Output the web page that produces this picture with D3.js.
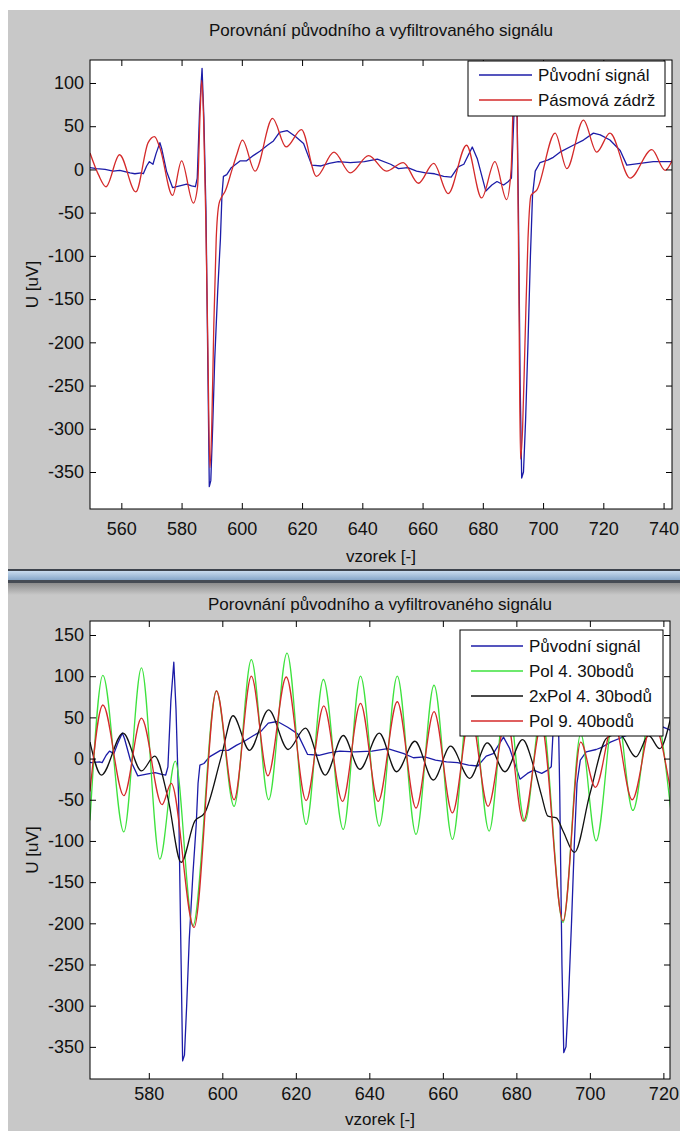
<!DOCTYPE html>
<html>
<head>
<meta charset="utf-8">
<script src="https://cdn.jsdelivr.net/npm/d3@7"></script>
<style>
  body { margin: 0; background: #fff; }
  svg { display: block; font-family: "Liberation Sans", Arial, Helvetica, sans-serif; }
</style>
</head>
<body>
<svg id="chart" width="680" height="1131"></svg>
<script>
// original ECG (same in both panels)  [sample, uV]
const puvodniSignal = [
  [549.6, 2], [551.8, 1], [554.6, 0], [557.3, -2], [559.5, -1], [562.9, -4], [564.5, -5],
  [566.6, -4], [567.3, -5], [568.4, 4], [569.3, 9], [570.5, 6], [571.5, 18], [572.8, 31],
  [573.4, 24], [575, -2], [577, -21], [579.4, -19], [581.7, -17], [583.3, -19], [584.6, -20],
  [585.2, -10], [586.0, 70], [586.8, 117], [587.4, 60], [588.1, -48], [588.8, -250],
  [589.2, -367], [589.7, -360], [590.3, -300], [591.0, -220], [592.0, -140], [592.9, -80],
  [593.4, -30], [593.9, -8], [595, -6], [596.5, 2], [599.5, 10], [601.6, 10], [603.8, 16],
  [606, 21], [608.5, 28], [610.5, 33], [612.5, 43], [615, 45], [617.8, 38], [620.5, 30],
  [623.2, 5], [626.3, 4], [629, 7], [632, 9], [636, 8], [640.7, 9], [645, 12], [649.4, 6],
  [652, 1], [655.1, 2], [658, -2], [661, -4], [664, -5], [667, -8], [669.5, -9], [671.8, 3],
  [673.7, 6], [676.5, 26], [678.2, 12], [681, -25], [683, -18], [684.7, -14], [686.9, -18],
  [688.5, -14], [689.5, -10], [690.3, 60], [690.9, 110], [691.4, 60], [691.8, -40],
  [692.4, -250], [692.9, -357], [693.5, -350], [694.2, -290], [695, -200], [695.8, -100],
  [696.5, -30], [697.4, -2], [699, 8], [701.7, 11], [703.4, 14], [705.6, 20], [710, 28],
  [713.4, 34], [716.7, 42], [719, 40], [722.2, 34], [725.6, 22], [727.8, 5], [732.2, 7],
  [736.6, 9], [742.8, 9]
];

// band stop filter (top panel)
const pasmovaZadrz = [
  [549.6, 19], [552.4, -6], [554.9, -20], [559.4, 17], [564.8, -26], [568.9, 31], [571, 38],
  [572.8, 25], [577, -30], [580, 10], [583.9, -39], [585.3, -20], [586.2, 70], [586.7, 103],
  [587.3, 60], [588.0, -50], [588.7, -200], [589.4, -345], [590.0, -300], [590.7, -180],
  [591.5, -80], [592.4, -40], [593.3, -32], [594.5, -25], [596.6, -2], [598.3, 17],
  [600.2, 34], [604.4, -2], [610.2, 59], [614.7, 26], [619.8, 46], [624.8, -8], [630.6, 20],
  [636, -4], [642.1, 16], [648, -2], [653.6, 8], [658.6, -16], [663.7, 7], [668.5, -28],
  [674.6, 28], [679.6, -33], [684, 9], [687.9, -35], [689.4, 0], [690.2, 90], [690.8, 110],
  [691.4, 60], [692.0, -150], [692.5, -335], [693.2, -300], [694.0, -200], [695, -80],
  [696, -30], [697.9, -24], [704, 42], [707.9, 1], [713.4, 57], [717.8, 20], [722.2, 42],
  [728.9, -10], [736.1, 23], [740.5, -1], [743.3, 14]
];

// bottom panel filters
const pol4 = [
  [564, -75], [567.5, 101], [573.2, -89], [578, 110], [583, -122], [587.2, -3], [592, -203],
  [598.4, 82], [603.2, -58], [607.9, 120], [612.6, -50], [617.6, 128], [622.8, -80],
  [627.5, 96], [632.9, -86], [637.6, 100], [642.7, -82], [647.6, 100], [652.7, -92],
  [657.6, 89], [662.6, -98], [667.5, 88], [672.6, -88], [677.3, 85], [682.3, -76],
  [686.8, 55], [692.7, -199], [697.5, 30], [701.7, -100], [707, 70], [711.7, -63],
  [717, 70], [722, -62]
];

const pol4x2 = [
  [564, 20], [567.1, -20], [573, 31], [578, -15], [581.6, 3], [585.2, -48], [588.8, -126],
  [592.5, -76], [595.2, -66], [599.7, 2], [602.9, 52], [607.4, 10], [612.6, 59], [617.9, 11],
  [622.6, 37], [628, -20], [632.9, 28], [637.4, -13], [642.7, 31], [647.4, -16], [652.4, 21],
  [657.4, -26], [662.1, 15], [667.3, -24], [672.1, 19], [676.9, -16], [681.7, 23],
  [684.6, -8], [686.8, -44], [688.6, -70], [690.9, -72], [692.7, -88], [695.8, -114],
  [700, -43], [704.6, 25], [708, 30], [712.5, 2], [716, 28], [719, 12], [722, 50]
];

const pol9 = [
  [564, -40], [567.5, 65], [573.2, -45], [578, 49], [583.6, -56], [586.1, -30], [592.3, -205],
  [598.4, 82], [603.2, -50], [607.9, 100], [612.4, -21], [617.4, 99], [622.8, -51],
  [627.6, 64], [632.7, -52], [637.6, 67], [642.4, -52], [647.6, 69], [652.7, -60],
  [657.6, 57], [662.6, -66], [667.5, 55], [672.3, -58], [677.3, 50], [681.9, -76],
  [686.8, 40], [692.7, -197], [697.5, 20], [701.5, -35], [706.5, 45], [711.5, -50],
  [717, 45], [722, -40]
];

const topXTicks = [560, 580, 600, 620, 640, 660, 680, 700, 720, 740];
const topYTicks = [100, 50, 0, -50, -100, -150, -200, -250, -300, -350];
const bottomXTicks = [580, 600, 620, 640, 660, 680, 700, 720];
const bottomYTicks = [150, 100, 50, 0, -50, -100, -150, -200, -250, -300, -350];

const titleText = "Porovnání původního a vyfiltrovaného signálu";
const xLabelText = "vzorek [-]";
const yLabelText = "U [uV]";

const BLUE = "#1c1ca8";
const RED = "#d42a2a";
const GREEN = "#3ee23e";
const BLACK = "#111";

const svg = d3.select("#chart");

// window background pieces
svg.append("rect").attr("x", 8).attr("y", 10).attr("width", 672).attr("height", 560).attr("fill", "#c8c8c8");
svg.append("rect").attr("x", 8).attr("y", 582).attr("width", 672).attr("height", 549).attr("fill", "#c8c8c8");

// window separator
const grad = svg.append("defs").append("linearGradient")
  .attr("id", "sepBlue").attr("x1", 0).attr("y1", 0).attr("x2", 0).attr("y2", 1);
grad.append("stop").attr("offset", "0%").attr("stop-color", "#c9dbee");
grad.append("stop").attr("offset", "100%").attr("stop-color", "#86a6c8");
const shade = svg.select("defs").append("linearGradient")
  .attr("id", "sepShade").attr("x1", 0).attr("y1", 0).attr("x2", 0).attr("y2", 1);
shade.append("stop").attr("offset", "0%").attr("stop-color", "#8c8c8c");
shade.append("stop").attr("offset", "100%").attr("stop-color", "#c8c8c8");

svg.append("rect").attr("x", 8).attr("y", 569).attr("width", 672).attr("height", 2).attr("fill", "#3d434c");
svg.append("rect").attr("x", 8).attr("y", 571).attr("width", 672).attr("height", 9).attr("fill", "url(#sepBlue)");
svg.append("rect").attr("x", 8).attr("y", 580).attr("width", 672).attr("height", 3).attr("fill", "#454b54");
svg.append("rect").attr("x", 8).attr("y", 583).attr("width", 672).attr("height", 12).attr("fill", "url(#sepShade)");

// MATLAB prints a plain hyphen for negative numbers
const plainNumber = (d) => String(d);

const drawPanel = (opts) => {
  const { id, left, right, top, bottom, xDomain, yDomain, xTicks, yTicks,
    series, legend, titleY, xTickPad, xLabelY } = opts;

  const x = d3.scaleLinear().domain(xDomain).range([left, right]);
  const y = d3.scaleLinear().domain(yDomain).range([bottom, top]);

  const g = svg.append("g").attr("class", id);

  g.append("rect")
    .attr("x", left).attr("y", top)
    .attr("width", right - left).attr("height", bottom - top)
    .attr("fill", "#fff");

  g.append("clipPath").attr("id", "clip-" + id)
    .append("rect")
    .attr("x", left).attr("y", top)
    .attr("width", right - left).attr("height", bottom - top);

  const plot = g.append("g").attr("clip-path", `url(#clip-${id})`);

  series.forEach((s) => {
    const line = d3.line()
      .x((d) => x(d[0]))
      .y((d) => y(d[1]))
      .curve(s.smooth ? d3.curveMonotoneX : d3.curveLinear);
    plot.append("path")
      .datum(s.data)
      .attr("fill", "none")
      .attr("stroke", s.color)
      .attr("stroke-width", 1.3)
      .attr("stroke-linejoin", "round")
      .attr("d", line);
  });

  // axes, ticks pointing inside as in MATLAB
  const styleAxis = (sel) => {
    sel.select(".domain").remove();
    sel.selectAll(".tick line").attr("stroke", "#000");
    sel.selectAll("text")
      .attr("fill", "#111")
      .style("font-family", "'Liberation Sans', Arial, sans-serif")
      .style("font-size", "18px");
  };

  g.append("g")
    .attr("transform", `translate(0,${bottom})`)
    .call(d3.axisBottom(x).tickValues(xTicks).tickFormat(plainNumber)
      .tickSizeInner(-6).tickSizeOuter(0).tickPadding(xTickPad))
    .call(styleAxis);
  g.append("g")
    .attr("transform", `translate(0,${top})`)
    .call(d3.axisTop(x).tickValues(xTicks).tickSizeInner(-6).tickSizeOuter(0).tickFormat(""))
    .call(styleAxis);
  g.append("g")
    .attr("transform", `translate(${left},0)`)
    .call(d3.axisLeft(y).tickValues(yTicks).tickFormat(plainNumber)
      .tickSizeInner(-6).tickSizeOuter(0).tickPadding(6))
    .call(styleAxis);
  g.append("g")
    .attr("transform", `translate(${right},0)`)
    .call(d3.axisRight(y).tickValues(yTicks).tickSizeInner(-6).tickSizeOuter(0).tickFormat(""))
    .call(styleAxis);

  g.append("rect")
    .attr("x", left).attr("y", top)
    .attr("width", right - left).attr("height", bottom - top)
    .attr("fill", "none").attr("stroke", "#000").attr("stroke-width", 1);

  // labels
  g.append("text")
    .attr("x", (left + right) / 2).attr("y", titleY)
    .attr("text-anchor", "middle")
    .attr("font-size", 17).attr("fill", "#111")
    .text(titleText);
  g.append("text")
    .attr("x", (left + right) / 2).attr("y", xLabelY)
    .attr("text-anchor", "middle")
    .attr("font-size", 17).attr("fill", "#111")
    .text(xLabelText);
  g.append("text")
    .attr("transform", `translate(38,${(top + bottom) / 2}) rotate(-90)`)
    .attr("text-anchor", "middle")
    .attr("font-size", 17).attr("fill", "#111")
    .text(yLabelText);

  // legend
  const lg = g.append("g");
  lg.append("rect")
    .attr("x", legend.x).attr("y", legend.y)
    .attr("width", legend.w).attr("height", legend.h)
    .attr("fill", "#fff").attr("stroke", "#000").attr("stroke-width", 1);
  series.forEach((s, i) => {
    const ry = legend.y + legend.first + i * legend.step;
    lg.append("line")
      .attr("x1", legend.x + legend.lineFrom).attr("x2", legend.x + legend.lineTo)
      .attr("y1", ry).attr("y2", ry)
      .attr("stroke", s.color).attr("stroke-width", 1.3);
    lg.append("text")
      .attr("x", legend.x + legend.textX).attr("y", ry)
      .attr("dy", "0.35em")
      .attr("font-size", 17).attr("fill", "#111")
      .text(s.name);
  });
};

drawPanel({
  id: "top",
  left: 90, right: 672, top: 60, bottom: 509,
  xDomain: [549.6, 742.8], yDomain: [-392.8, 126.6],
  xTicks: topXTicks, yTicks: topYTicks,
  titleY: 36, xTickPad: 13, xLabelY: 562,
  series: [
    { name: "Původní signál", data: puvodniSignal, color: BLUE, smooth: false },
    { name: "Pásmová zádrž", data: pasmovaZadrz, color: RED, smooth: true }
  ],
  legend: { x: 468, y: 61, w: 197, h: 55, first: 14, step: 25, lineFrom: 11, lineTo: 64, textX: 70 }
});

drawPanel({
  id: "bottom",
  left: 90, right: 670, top: 621, bottom: 1079,
  xDomain: [564, 721.8], yDomain: [-389, 167],
  xTicks: bottomXTicks, yTicks: bottomYTicks,
  titleY: 610, xTickPad: 8, xLabelY: 1125,
  series: [
    { name: "Původní signál", data: puvodniSignal, color: BLUE, smooth: false },
    { name: "Pol 4. 30bodů", data: pol4, color: GREEN, smooth: true },
    { name: "2xPol 4. 30bodů", data: pol4x2, color: BLACK, smooth: true },
    { name: "Pol 9. 40bodů", data: pol9, color: RED, smooth: true }
  ],
  legend: { x: 460, y: 630, w: 203, h: 106, first: 16, step: 25, lineFrom: 11, lineTo: 63, textX: 69 }
});
</script>
</body>
</html>
